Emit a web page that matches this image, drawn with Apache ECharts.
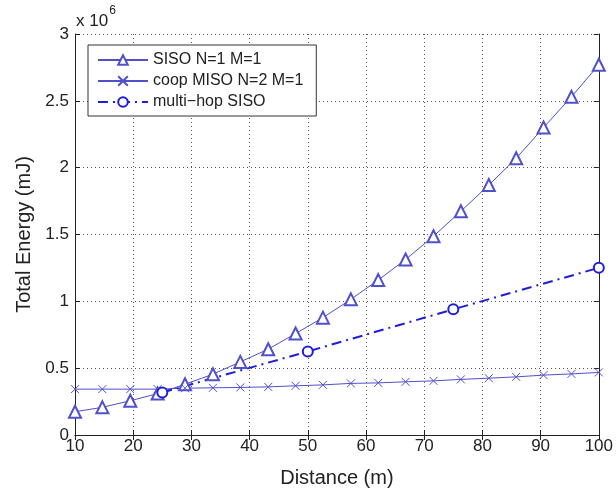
<!DOCTYPE html>
<html><head><meta charset="utf-8">
<script src="https://cdn.jsdelivr.net/npm/echarts@6/dist/echarts.min.js"></script>
<style>html,body{margin:0;padding:0;background:#fff}#c{width:616px;height:493px}</style>
</head><body><div id="c"></div>
<script>
const distances = [10, 14.7, 19.5, 24.2, 28.9, 33.7, 38.4, 43.2, 47.9, 52.6, 57.4, 62.1, 66.8, 71.6, 76.3, 81.1, 85.8, 90.5, 95.3, 100];
const sisoEnergy = [0.174, 0.207, 0.256, 0.31, 0.38, 0.455, 0.547, 0.642, 0.759, 0.878, 1.015, 1.159, 1.313, 1.487, 1.674, 1.87, 2.07, 2.30, 2.53, 2.77];
const coopMisoEnergy = [0.343, 0.343, 0.343, 0.343, 0.35, 0.353, 0.356, 0.36, 0.368, 0.375, 0.386, 0.39, 0.398, 0.405, 0.416, 0.425, 0.435, 0.448, 0.457, 0.468];
const multiHopDist = [25, 50, 75, 100];
const multiHopEnergy = [0.318, 0.625, 0.94, 1.251];
const yTicks = ['0', '0.5', '1', '1.5', '2', '2.5', '3'];

const font = 'Liberation Sans, Arial, sans-serif';
const pair = (xs, ys) => xs.map((x, i) => [x, ys[i]]);
const chart = echarts.init(document.getElementById('c'), null, {renderer: 'canvas'});
const axisCommon = {
  axisLine: {show: true, lineStyle: {color: '#222', width: 1}},
  axisTick: {show: true, inside: true, length: 5, lineStyle: {color: '#222'}},
};
chart.setOption({
  backgroundColor: '#fff',
  animation: false,
  grid: {left: 75, right: 17, top: 34, bottom: 57},
  legend: {
    orient: 'vertical', left: 88, top: 45,
    backgroundColor: '#fff', borderColor: '#333', borderWidth: 1,
    padding: [7, 13, 6, 9], itemGap: 5, itemWidth: 50, itemHeight: 12,
    textStyle: {fontFamily: font, fontSize: 16, color: '#222'},
    data: ['SISO N=1 M=1', 'coop MISO N=2 M=1', 'multi\u2212hop SISO']
  },
  xAxis: [
    Object.assign({type: 'value', min: 10, max: 100, interval: 10,
      name: 'Distance (m)', nameLocation: 'middle', nameGap: 33,
      nameTextStyle: {fontFamily: font, fontSize: 20, color: '#222'},
      axisLabel: {fontFamily: font, fontSize: 17, color: '#222', margin: 3},
      splitLine: {show: true, lineStyle: {type: [1, 3], color: '#555'}}}, axisCommon),
    Object.assign({type: 'value', position: 'top', min: 10, max: 100, interval: 10,
      axisLabel: {show: false}, splitLine: {show: false}}, axisCommon)
  ],
  yAxis: [
    Object.assign({type: 'value', min: 0, max: 3, interval: 0.5,
      name: 'Total Energy (mJ)', nameLocation: 'middle', nameGap: 41, nameRotate: 90,
      nameTextStyle: {fontFamily: font, fontSize: 20, color: '#222'},
      axisLabel: {fontFamily: font, fontSize: 17, color: '#222', margin: 6,
        formatter: v => yTicks[Math.round(v * 2)]},
      splitLine: {show: true, lineStyle: {type: [1, 3], color: '#555'}}}, axisCommon),
    Object.assign({type: 'value', position: 'right', min: 0, max: 3, interval: 0.5,
      axisLabel: {show: false}, splitLine: {show: false}}, axisCommon)
  ],
  graphic: [{
    type: 'text', left: 76, top: 5,
    style: {text: '{a|x 10}{b|6}', rich: {
      a: {fontFamily: font, fontSize: 17, fill: '#222', padding: [8, 1, 0, 0]},
      b: {fontFamily: font, fontSize: 12, fill: '#222', verticalAlign: 'top'}}}
  }],
  series: [
    {name: 'SISO N=1 M=1', type: 'line', data: pair(distances, sisoEnergy),
      symbol: 'emptyTriangle', symbolSize: 12,
      lineStyle: {color: '#5050cc', width: 1}, itemStyle: {color: '#5050cc', borderWidth: 1}},
    {name: 'coop MISO N=2 M=1', type: 'line', data: pair(distances, coopMisoEnergy),
      symbol: 'path://M0,0L10,10M10,0L0,10', symbolSize: 8,
      lineStyle: {color: '#5050cc', width: 1}, itemStyle: {color: '#5050cc', borderColor: '#5050cc', borderWidth: 1}},
    {name: 'multi\u2212hop SISO', type: 'line', data: pair(multiHopDist, multiHopEnergy),
      symbol: 'emptyCircle', symbolSize: 10,
      lineStyle: {color: '#1e1ed8', width: 2, type: [10, 5, 2, 5]},
      itemStyle: {color: '#1e1ed8', borderWidth: 2}}
  ]
});
</script></body></html>
